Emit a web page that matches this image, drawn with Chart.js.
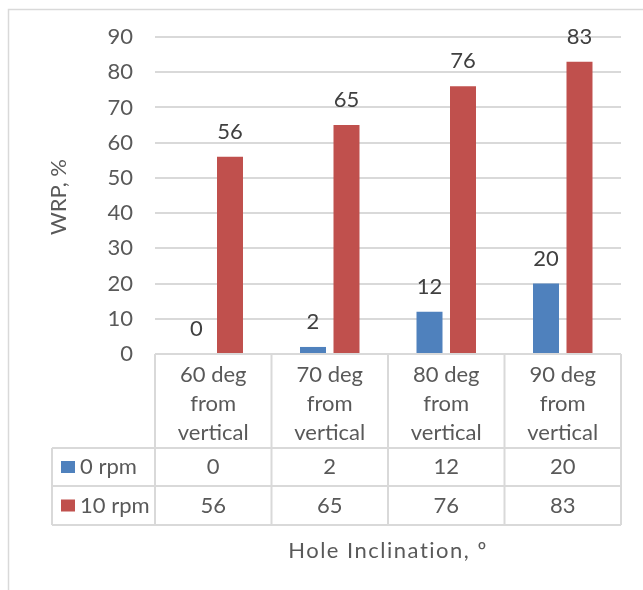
<!DOCTYPE html>
<html>
<head>
<meta charset="utf-8">
<script src="https://cdn.jsdelivr.net/npm/chart.js@4"></script>
<style>
  html, body { margin: 0; padding: 0; background: #fff; }
  #wrap { position: relative; width: 643px; height: 590px; }
</style>
</head>
<body>
<div id="wrap"><canvas id="wrpChart" width="643" height="590"></canvas></div>
<script>
// Data
const categories = [['60 deg', 'from', 'vertical'], ['70 deg', 'from', 'vertical'], ['80 deg', 'from', 'vertical'], ['90 deg', 'from', 'vertical']];
const seriesNames = ['0 rpm', '10 rpm'];
const rpm0 = [0, 2, 12, 20];
const rpm10 = [56, 65, 76, 83];
const yTicks = [0, 10, 20, 30, 40, 50, 60, 70, 80, 90];

const FONT = 'Lato, "Open Sans", sans-serif';
const FONT_SIZE = 22;
const TEXT = '#595959';
const GRID = '#D9D9D9';

// Outer frame, axis titles, value labels above bars and the data table under the axis
const excelExtras = {
    id: 'excelExtras',
    afterDraw(chart) {
        const ctx = chart.ctx;
        const area = chart.chartArea;
        const x = chart.scales.x;
        const half = (x.getPixelForValue(1) - x.getPixelForValue(0)) / 2;
        ctx.save();

        // chart frame
        ctx.strokeStyle = GRID;
        ctx.lineWidth = 1.5;
        ctx.beginPath();
        ctx.moveTo(8.5, 590);
        ctx.lineTo(8.5, 9.5);
        ctx.lineTo(643, 9.5);
        ctx.stroke();

        // value labels
        ctx.font = FONT_SIZE + 'px ' + FONT;
        ctx.fillStyle = '#404040';
        ctx.textAlign = 'center';
        ctx.textBaseline = 'middle';
        chart.data.datasets.forEach((ds, di) => {
            chart.getDatasetMeta(di).data.forEach((bar, i) => {
                ctx.fillText(String(ds.data[i]), bar.x, bar.y - 25);
            });
        });

        // y axis title
        ctx.fillStyle = TEXT;
        ctx.save();
        ctx.translate(59, 197);
        ctx.rotate(-Math.PI / 2);
        ctx.fillText('WRP, %', 0, 0);
        ctx.restore();

        // table grid
        const top = area.bottom;
        const rowHead = top + 94;
        const row1 = rowHead + 38;
        const row2 = row1 + 39;
        const left = x.getPixelForValue(0) - half;
        const right = x.getPixelForValue(categories.length - 1) + half;
        const keyLeft = 52;
        ctx.strokeStyle = GRID;
        ctx.lineWidth = 2;
        ctx.beginPath();
        ctx.moveTo(left, top); ctx.lineTo(right, top);
        ctx.moveTo(keyLeft, rowHead); ctx.lineTo(right, rowHead);
        ctx.moveTo(keyLeft, row1); ctx.lineTo(right, row1);
        ctx.moveTo(keyLeft, row2); ctx.lineTo(right, row2);
        ctx.moveTo(keyLeft, rowHead); ctx.lineTo(keyLeft, row2);
        for (let i = 0; i <= categories.length; i++) {
            const cx = left + i * half * 2;
            ctx.moveTo(cx, top); ctx.lineTo(cx, row2);
        }
        ctx.stroke();

        // category headers and values
        categories.forEach((lines, i) => {
            const cx = x.getPixelForValue(i);
            lines.forEach((ln, k) => ctx.fillText(ln, cx, top + 21 + k * 29));
            ctx.fillText(String(rpm0[i]), cx, (rowHead + row1) / 2);
            ctx.fillText(String(rpm10[i]), cx, (row1 + row2) / 2);
        });

        // legend keys
        ctx.textAlign = 'left';
        [[rowHead, row1], [row1, row2]].forEach(([a, b], di) => {
            const cy = (a + b) / 2;
            ctx.fillStyle = chart.data.datasets[di].backgroundColor;
            ctx.fillRect(61, cy - 6, 14, 12);
            ctx.fillStyle = TEXT;
            ctx.fillText(seriesNames[di], 80, cy);
        });

        // x axis title
        ctx.textAlign = 'center';
        ctx.letterSpacing = '1.5px';
        ctx.fillText('Hole Inclination, º', (left + right) / 2, 551);

        ctx.restore();
    }
};

new Chart(document.getElementById('wrpChart').getContext('2d'), {
    type: 'bar',
    data: {
        labels: categories.map(c => c.join(' ')),
        datasets: [{
            label: seriesNames[0],
            data: rpm0,
            backgroundColor: '#4F81BD',
            categoryPercentage: 0.575,
            barPercentage: 0.776
        }, {
            label: seriesNames[1],
            data: rpm10,
            backgroundColor: '#C0504D',
            categoryPercentage: 0.575,
            barPercentage: 0.776
        }]
    },
    options: {
        responsive: false,
        animation: false,
        layout: { padding: { left: 40, right: 22, top: 37, bottom: 236 } },
        plugins: {
            legend: { display: false },
            tooltip: { enabled: false }
        },
        scales: {
            x: { display: false },
            y: {
                min: 0,
                max: 90,
                afterFit: (scale) => { scale.width = 115; },
                afterBuildTicks: (scale) => { scale.ticks = yTicks.map(v => ({ value: v })); },
                ticks: {
                    padding: 22,
                    color: TEXT,
                    font: { family: FONT, size: FONT_SIZE }
                },
                grid: { color: GRID, lineWidth: 2, drawTicks: false },
                border: { display: false }
            }
        }
    },
    plugins: [excelExtras]
});
</script>
</body>
</html>
